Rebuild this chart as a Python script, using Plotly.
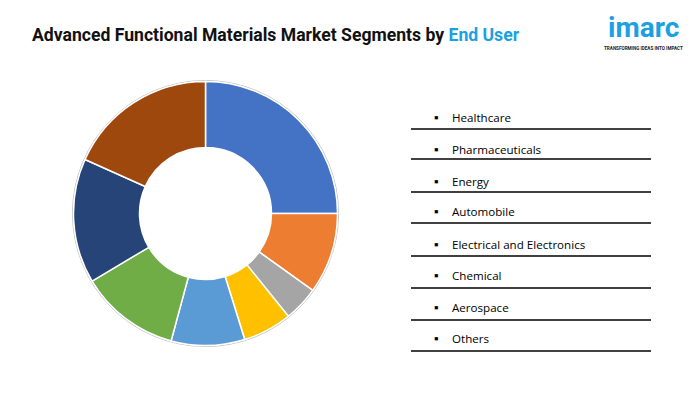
import plotly.graph_objects as go

categories = ["Healthcare", "Pharmaceuticals", "Energy", "Automobile",
              "Electrical and Electronics", "Chemical", "Aerospace", "Others"]
shares = [25.0, 9.9, 4.3, 6.0, 9.0, 12.25, 15.25, 18.3]
colors = ["#4472C4", "#ED7D31", "#A5A5A5", "#FFC000",
          "#5B9BD5", "#70AD47", "#264478", "#9E480E"]

W, H = 700, 394
cx, cy, R = 205.5, 213.5, 132

fig = go.Figure()
fig.add_trace(go.Pie(
    labels=categories, values=shares, hole=0.5, sort=False,
    direction="clockwise", rotation=0,
    marker=dict(colors=colors, line=dict(color="white", width=1.5)),
    textinfo="none", hoverinfo="label+percent", showlegend=False,
    domain=dict(x=[(cx - R) / W, (cx + R) / W],
                y=[(H - cy - R) / H, (H - cy + R) / H]),
))

shapes = []
shapes.append(dict(type="circle", xref="paper", yref="paper",
                   x0=(cx - R - 1) / W, x1=(cx + R + 1) / W,
                   y0=(H - cy - R - 1) / H, y1=(H - cy + R + 1) / H,
                   line=dict(color="#BFBFBF", width=1), layer="below"))

annotations = []
text_y = [117, 149, 181, 212, 244, 275, 307, 338]
line_y = [129, 159, 192, 223, 256, 288, 320, 351]
for lab, ty, ly in zip(categories, text_y, line_y):
    annotations.append(dict(x=436 / W, y=1 - ty / H, xref="paper", yref="paper",
                            text="▪", showarrow=False, xanchor="center", yanchor="middle",
                            font=dict(size=13, color="#000000", family="Liberation Sans")))
    annotations.append(dict(x=450 / W, y=1 - ty / H, xref="paper", yref="paper",
                            text=lab, showarrow=False, xanchor="left", yanchor="middle",
                            font=dict(size=11.6, color="#000000", family="Open Sans")))
    shapes.append(dict(type="line", xref="paper", yref="paper",
                       x0=411 / W, x1=651 / W, y0=1 - ly / H, y1=1 - ly / H,
                       line=dict(color="#000000", width=1.3)))

annotations.append(dict(x=30 / W, y=1 - 35 / H, xref="paper", yref="paper",
                        text="<b>Advanced Functional Materials Market Segments by </b>"
                             "<b><span style='color:#1BA1E2'>End User</span></b>",
                        showarrow=False, xanchor="left", yanchor="middle",
                        font=dict(size=17.6, color="#111111", family="Roboto")))
annotations.append(dict(x=643 / W, y=1 - 27 / H, xref="paper", yref="paper",
                        text="<b>imarc</b>", showarrow=False, xanchor="center", yanchor="middle",
                        borderpad=0,
                        font=dict(size=28, color="#1BA1E2", family="Roboto")))
annotations.append(dict(x=643 / W, y=1 - 48 / H, xref="paper", yref="paper",
                        text="<b>TRANSFORMING IDEAS INTO IMPACT</b>", showarrow=False,
                        xanchor="center", yanchor="middle", borderpad=0,
                        font=dict(size=4.6, color="#222222", family="Roboto")))

fig.update_layout(width=W, height=H, margin=dict(l=0, r=0, t=0, b=0),
                  paper_bgcolor="white", plot_bgcolor="white",
                  shapes=shapes, annotations=annotations)
fig.write_html("out.html", config={"displayModeBar": False},
               post_script="document.body.style.margin='0';document.body.style.overflow='hidden';")
